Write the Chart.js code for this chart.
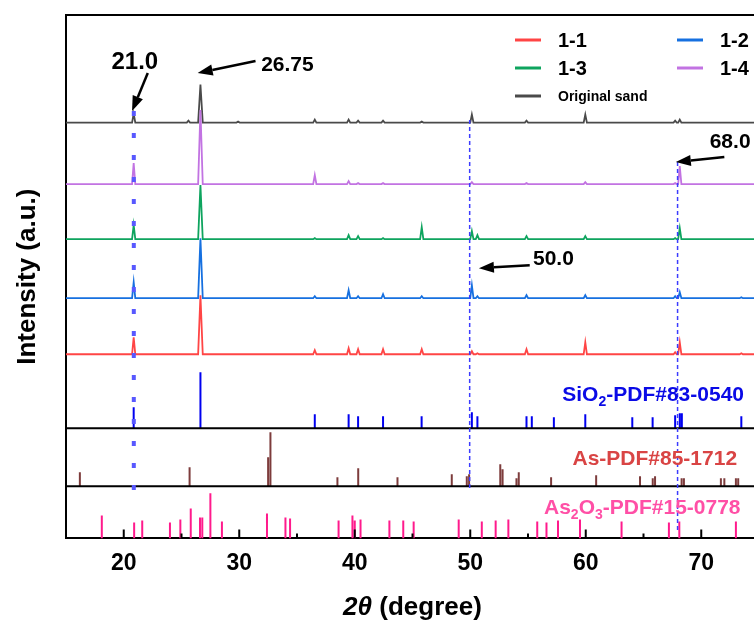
<!DOCTYPE html>
<html>
<head>
<meta charset="utf-8">
<script src="https://cdn.jsdelivr.net/npm/chart.js@4.4.1/dist/chart.umd.min.js"></script>
<style>
  html, body { margin: 0; padding: 0; background: #fff; overflow: hidden; }
  #wrap { width: 770px; height: 621px; }
</style>
</head>
<body>
<div id="wrap"><canvas id="xrdChart" width="770" height="621"></canvas></div>
<script>
// 2theta positions of the peaks seen in the measured patterns
const peakAngles = [20.86, 25.6, 26.64, 29.9, 36.54, 39.47, 40.29, 42.45, 45.8, 50.14, 50.62, 54.87, 59.96, 67.74, 68.14, 73.47];
// peak heights per sample (a.u.)
const sample11 = [17, 0, 59, 0, 4, 6, 5, 5, 5, 3, 1, 5, 12, 2, 12, 1];
const sample12 = [16, 0, 60, 0, 2, 8, 2, 4, 2, 13, 2, 3, 3, 2, 6, 1];
const sample13 = [14, 0, 54, 0, 1, 4, 3, 1, 12, 8, 4, 3, 3, 1, 11, 0];
const sample14 = [21, 0, 74, 0, 9, 3, 1, 1, 0, 2, 0, 1, 2, 1, 18, 0];
const originalSand = [9, 2, 38, 1, 3, 3, 2, 2, 1, 8, 0, 2, 8, 2, 3, 0];
const sampleLabels = ['1-1', '1-2', '1-3', '1-4', 'Original sand'];

// reference cards
const sio2Angles = [20.86, 26.64, 36.54, 39.47, 40.29, 42.45, 45.79, 50.14, 50.62, 54.87, 55.33, 57.24, 59.96, 64.03, 65.79, 67.74, 68.14, 68.32, 73.47];
const sio2Int = [21, 56, 14, 14, 12, 12, 12, 16, 12, 12, 12, 11, 14, 11, 11, 13, 15, 15, 12];
const asAngles = [16.2, 25.7, 32.5, 32.7, 38.5, 40.3, 43.7, 48.4, 49.7, 49.9, 52.6, 52.8, 54.0, 54.2, 57.0, 60.9, 64.7, 65.8, 66.0, 68.3, 68.5, 71.7, 72.0, 73.0, 73.2];
const asInt = [14, 19, 29, 54, 9, 18, 9, 12, 10, 12, 22, 17, 8, 14, 9, 11, 10, 8, 10, 8, 8, 8, 8, 8, 8];
const as2o3Angles = [18.1, 20.9, 21.6, 24.0, 24.9, 25.8, 26.6, 26.8, 27.5, 28.5, 32.4, 34.0, 34.4, 38.6, 39.8, 40.0, 40.5, 43.0, 44.2, 45.1, 49.0, 51.0, 52.2, 53.3, 55.8, 56.6, 57.6, 59.5, 63.1, 67.2, 68.1, 73.0];
const as2o3Int = [23, 16, 18, 16, 19, 30, 21, 21, 45, 17, 25, 21, 20, 18, 23, 18, 19, 18, 18, 17, 19, 17, 18, 19, 17, 16, 18, 19, 17, 16, 17, 17];
const refLabels = [
  [['SiO', 0], ['2', 1], ['-PDF#83-0540', 0]],
  [['As-PDF#85-1712', 0]],
  [['As', 0], ['2', 1], ['O', 0], ['3', 1], ['-PDF#15-0778', 0]]
];

// x axis
const xTickValues = [20, 30, 40, 50, 60, 70];
const xMinorTicks = [25, 35, 45, 55, 65];

// marked peaks
const markTexts = ['21.0', '26.75', '68.0', '50.0'];
const markGuides = [20.87, 49.95, 67.95];

const FONT = 'Arial, "Liberation Sans", sans-serif';
const colors = ['#ff4545', '#1670e0', '#0ea45e', '#c273e2', '#4a4a4a'];
const refColors = ['#0000f0', '#7d3c3c', '#ff1a8c'];
const refTextColors = ['#0a0ae6', '#d94444', '#ff4fa6'];

// vertical stacking (y units)
const traceBase = [184, 240, 299, 354, 415.5];
const refBase = [110, 52, 0];

function tracePoints(heights, base) {
  const pts = [{ x: 15, y: base }];
  peakAngles.forEach((a, i) => {
    if (!heights[i]) return;
    const w = heights[i] > 30 ? 0.2 : 0.14;
    pts.push({ x: a - w, y: base }, { x: a, y: base + heights[i] }, { x: a + w, y: base });
  });
  pts.push({ x: 75, y: base });
  return pts;
}

function stickPoints(angles, ints, base) {
  const pts = [];
  angles.forEach((a, i) => {
    pts.push({ x: a, y: base }, { x: a, y: base + ints[i] }, { x: a, y: null });
  });
  return pts;
}

const samples = [sample11, sample12, sample13, sample14, originalSand];
const datasets = samples.map((s, i) => ({
  label: sampleLabels[i],
  data: tracePoints(s, traceBase[i]),
  borderColor: colors[i],
  borderWidth: 1.8,
  pointRadius: 0,
  tension: 0
}));
[[sio2Angles, sio2Int], [asAngles, asInt], [as2o3Angles, as2o3Int]].forEach((r, i) => {
  datasets.push({
    label: 'ref' + i,
    data: stickPoints(r[0], r[1], refBase[i]),
    borderColor: refColors[i],
    borderWidth: 2,
    pointRadius: 0,
    spanGaps: false
  });
});

function arrow(ctx, x1, y1, x2, y2) {
  const ang = Math.atan2(y2 - y1, x2 - x1);
  const len = 15, hw = 5.5;
  const bx = x2 - len * Math.cos(ang), by = y2 - len * Math.sin(ang);
  ctx.beginPath();
  ctx.moveTo(x1, y1);
  ctx.lineTo(bx, by);
  ctx.lineWidth = 2.5;
  ctx.strokeStyle = '#000';
  ctx.stroke();
  ctx.beginPath();
  ctx.moveTo(x2, y2);
  ctx.lineTo(bx + hw * Math.sin(ang), by - hw * Math.cos(ang));
  ctx.lineTo(bx - hw * Math.sin(ang), by + hw * Math.cos(ang));
  ctx.closePath();
  ctx.fillStyle = '#000';
  ctx.fill();
}

const decorPlugin = {
  id: 'decor',
  afterDatasetsDraw(chart) {
    const ctx = chart.ctx;
    const xs = chart.scales.x, ys = chart.scales.y;
    const area = chart.chartArea;
    const X = v => xs.getPixelForValue(v);
    const Y = v => ys.getPixelForValue(v);
    ctx.save();

    // frame top and panel separators
    ctx.strokeStyle = '#000';
    ctx.lineWidth = 2;
    ctx.beginPath();
    ctx.moveTo(area.left, area.top);
    ctx.lineTo(area.right, area.top);
    refBase.slice(0, 2).forEach(b => {
      ctx.moveTo(area.left, Y(b));
      ctx.lineTo(area.right, Y(b));
    });
    ctx.stroke();

    // inward x ticks
    ctx.beginPath();
    xTickValues.forEach(v => { ctx.moveTo(X(v), area.bottom); ctx.lineTo(X(v), area.bottom - 9); });
    xMinorTicks.forEach(v => { ctx.moveTo(X(v), area.bottom); ctx.lineTo(X(v), area.bottom - 5); });
    ctx.stroke();

    // guide lines
    ctx.strokeStyle = '#5858ff';
    ctx.lineWidth = 4;
    ctx.setLineDash([5, 17]);
    ctx.beginPath();
    ctx.moveTo(X(markGuides[0]), Y(427));
    ctx.lineTo(X(markGuides[0]), Y(34));
    ctx.stroke();
    ctx.strokeStyle = '#3c3cff';
    ctx.lineWidth = 1.5;
    ctx.setLineDash([4, 3]);
    ctx.beginPath();
    ctx.moveTo(X(markGuides[1]), Y(418));
    ctx.lineTo(X(markGuides[1]), Y(50));
    ctx.moveTo(X(markGuides[2]), Y(376));
    ctx.lineTo(X(markGuides[2]), Y(8));
    ctx.stroke();
    ctx.setLineDash([]);

    // peak marks
    const markPos = [[20.96, 476, 24], [34.17, 473, 21], [72.5, 396, 21], [57.2, 279, 21]];
    const markArrows = [[22.08, 465, 20.72, 427], [31.41, 477, 26.4, 465], [72.0, 381, 67.8, 376], [55.15, 273, 50.75, 270]];
    ctx.textAlign = 'center';
    ctx.textBaseline = 'middle';
    ctx.fillStyle = '#000';
    markTexts.forEach((t, i) => {
      ctx.font = 'bold ' + markPos[i][2] + 'px ' + FONT;
      ctx.fillText(t, X(markPos[i][0]), Y(markPos[i][1]));
      const a = markArrows[i];
      arrow(ctx, X(a[0]), Y(a[1]), X(a[2]), Y(a[3]));
    });

    // reference card labels (right aligned)
    const refLabelPos = [[73.7, 145], [73.1, 81], [73.4, 32]];
    ctx.textAlign = 'left';
    ctx.textBaseline = 'alphabetic';
    refLabels.forEach((parts, i) => {
      let w = 0;
      parts.forEach(p => {
        ctx.font = 'bold ' + (p[1] ? 14 : 21) + 'px ' + FONT;
        w += ctx.measureText(p[0]).width;
      });
      let x = X(refLabelPos[i][0]) - w;
      const y = Y(refLabelPos[i][1]) + 7.5;
      ctx.fillStyle = refTextColors[i];
      parts.forEach(p => {
        ctx.font = 'bold ' + (p[1] ? 14 : 21) + 'px ' + FONT;
        ctx.fillText(p[0], x, p[1] ? y + 5 : y);
        x += ctx.measureText(p[0]).width;
      });
    });

    // legend
    const legendSlots = [[515, 40], [677, 40], [515, 68], [677, 68], [515, 96]];
    ctx.textBaseline = 'middle';
    sampleLabels.forEach((lab, i) => {
      const [lx, ly] = legendSlots[i];
      ctx.strokeStyle = colors[i];
      ctx.lineWidth = 3;
      ctx.beginPath();
      ctx.moveTo(lx, ly);
      ctx.lineTo(lx + 26, ly);
      ctx.stroke();
      ctx.fillStyle = '#000';
      ctx.font = 'bold ' + (i < 4 ? 20 : 14) + 'px ' + FONT;
      ctx.fillText(lab, lx + 43, ly + 1);
    });

    // x title with italic 2θ
    ctx.font = 'italic bold 26px ' + FONT;
    const w1 = ctx.measureText('2\u03b8').width;
    ctx.font = 'bold 26px ' + FONT;
    const w2 = ctx.measureText(' (degree)').width;
    const tx = (area.left + area.right) / 2 - (w1 + w2) / 2;
    ctx.fillStyle = '#000';
    ctx.font = 'italic bold 26px ' + FONT;
    ctx.fillText('2\u03b8', tx, 608);
    ctx.font = 'bold 26px ' + FONT;
    ctx.fillText(' (degree)', tx + w1, 608);

    ctx.restore();
  }
};

const ctx = document.getElementById('xrdChart').getContext('2d');
new Chart(ctx, {
  type: 'line',
  data: { datasets: datasets },
  options: {
    responsive: false,
    animation: false,
    devicePixelRatio: 1,
    layout: { padding: { top: 15, right: 11, bottom: 33, left: 0 } },
    plugins: { legend: { display: false }, tooltip: { enabled: false } },
    scales: {
      x: {
        type: 'linear',
        min: 15,
        max: 75,
        afterBuildTicks: scale => { scale.ticks = xTickValues.map(v => ({ value: v })); },
        grid: { display: false, drawTicks: false },
        border: { display: true, color: '#000', width: 2 },
        ticks: { color: '#000', padding: 11, font: { family: FONT, size: 23, weight: 'bold' } }
      },
      y: {
        min: 0,
        max: 523,
        grid: { display: false, drawTicks: false },
        border: { display: true, color: '#000', width: 2 },
        ticks: { display: false },
        title: {
          display: true,
          text: 'Intensity (a.u.)',
          color: '#000',
          font: { family: FONT, size: 26, weight: 'bold' },
          padding: { top: 12.5, bottom: 22.3 }
        }
      }
    }
  },
  plugins: [decorPlugin]
});
</script>
</body>
</html>
